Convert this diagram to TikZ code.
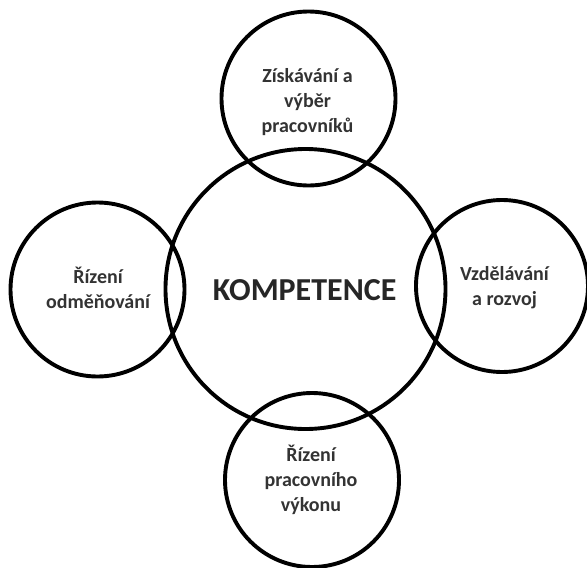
\documentclass[tikz,border=0pt]{standalone}
\usepackage{fontspec}
\setmainfont{Carlito}
\definecolor{txt}{HTML}{333333}
\begin{document}
\begin{tikzpicture}[x=1pt,y=-1pt,
  ring/.style={draw=black,line width=3.9pt,circle,inner sep=0pt},
  lbl/.style={font=\fontsize{20}{25}\selectfont\bfseries,text=txt,align=center,inner sep=0pt,anchor=base},
  big/.style={font=\fontsize{32}{38}\selectfont\bfseries,text=black!85,inner sep=0pt,anchor=base}]
\useasboundingbox (0,0) rectangle (587,568);
\node[ring,minimum size=280pt] (core) at (305.5,289) {};
\node[ring,minimum size=174pt] (top) at (308.5,98.5) {};
\node[ring,minimum size=174pt] (left) at (97.5,289.5) {};
\node[ring,minimum size=172pt] (right) at (502,286) {};
\node[ring,minimum size=174pt] (bottom) at (312,480) {};
\node[big] (tcore) at (304.7,300.7) {KOMPETENCE};
\node[lbl] (ttop) at (307.5,132) {Získávání a\\výběr\\pracovníků};
\node[lbl] (tleft) at (98,308.5) {Řízení\\odměňování};
\node[lbl] (tright) at (504.5,305) {Vzdělávání\\a rozvoj};
\node[lbl] (tbottom) at (311,511.7) {Řízení\\pracovního\\výkonu};
\end{tikzpicture}
\end{document}
